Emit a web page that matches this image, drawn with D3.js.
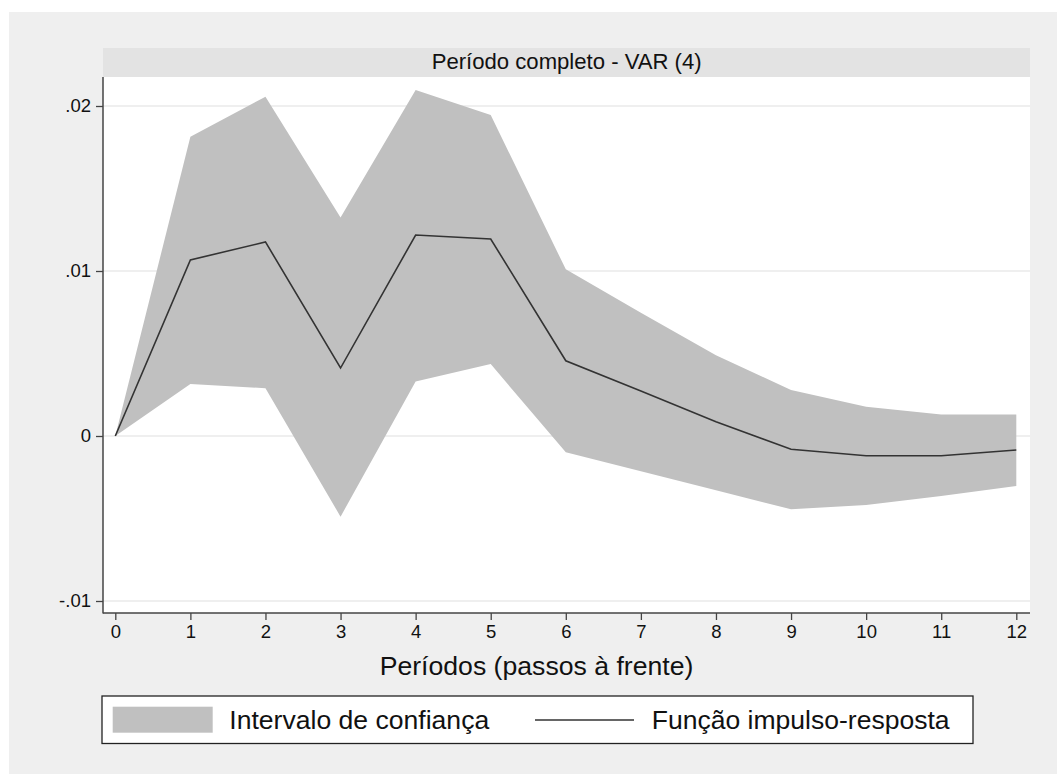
<!DOCTYPE html>
<html><head><meta charset="utf-8">
<script src="https://d3js.org/d3.v7.min.js"></script>
<style>body{margin:0;background:#fff;}svg{display:block;font-family:"Liberation Sans",Arial,sans-serif;}</style>
</head><body>
<script>
const steps = [0,1,2,3,4,5,6,7,8,9,10,11,12];
const irf   = [0, 0.01067, 0.01176, 0.00412, 0.01218, 0.01194, 0.00456, 0.00273, 0.00087, -0.0008, -0.0012, -0.0012, -0.00085];
const upper = [0, 0.01814, 0.02056, 0.01325, 0.02097, 0.01945, 0.0101, 0.00747, 0.0049, 0.00279, 0.00178, 0.00131, 0.00131];
const lower = [0, 0.00315, 0.0029, -0.00489, 0.0033, 0.00436, -0.00099, -0.00214, -0.00329, -0.00444, -0.00418, -0.00364, -0.00303];
const yTicks = [-0.01, 0, 0.01, 0.02];
const yTickLabels = ["-.01", "0", ".01", ".02"];
const titleText = "Período completo - VAR (4)";
const xTitle = "Períodos (passos à frente)";
const legendLabels = ["Intervalo de confiança", "Função impulso-resposta"];

const W = 1057, H = 774;
const svg = d3.select("body").append("svg").attr("width", W).attr("height", H);

// outer background
svg.append("rect").attr("x", 9).attr("y", 12).attr("width", W - 9).attr("height", H - 12).attr("fill", "#efefef");

const plot = {left: 103, right: 1030, top: 77, bottom: 613};
const x = d3.scaleLinear().domain([0, 12]).range([115.3, 1016.3]);
const y = d3.scaleLinear().domain([-0.01, 0.02]).range([601, 106]);

// plot area
svg.append("rect").attr("x", plot.left).attr("y", plot.top).attr("width", plot.right - plot.left).attr("height", plot.bottom - plot.top).attr("fill", "#fff");
// title strip
svg.append("rect").attr("x", plot.left).attr("y", 48).attr("width", plot.right - plot.left).attr("height", 29).attr("fill", "#e3e3e3");

function fit(sel, target) {
  const w = sel.node().getComputedTextLength();
  const fs = parseFloat(sel.attr("font-size"));
  sel.attr("font-size", fs * target / w);
}

const t = svg.append("text").attr("x", 566.7).attr("y", 69).attr("text-anchor", "middle").attr("font-size", 18).attr("fill", "#111").text(titleText);
fit(t, 270);

// gridlines
svg.append("g").selectAll("line").data(yTicks).join("line")
  .attr("x1", plot.left).attr("x2", plot.right)
  .attr("y1", d => y(d)).attr("y2", d => y(d))
  .attr("stroke", "#eaeaea").attr("stroke-width", 1.5);

const data = steps.map((s, i) => ({s, irf: irf[i], lo: lower[i], hi: upper[i]}));

svg.append("path").datum(data)
  .attr("d", d3.area().x(d => x(d.s)).y0(d => y(d.lo)).y1(d => y(d.hi)))
  .attr("fill", "#c0c0c0");

svg.append("path").datum(data)
  .attr("d", d3.line().x(d => x(d.s)).y(d => y(d.irf)))
  .attr("fill", "none").attr("stroke", "#333").attr("stroke-width", 1.6);

// y axis
const yAxis = d3.axisLeft(y).tickValues(yTicks).tickFormat((d, i) => yTickLabels[i]).tickSize(7).tickPadding(5);
const gy = svg.append("g").attr("transform", `translate(${plot.left},0)`).call(yAxis);
gy.select(".domain").remove();
gy.append("line").attr("x1", 0).attr("x2", 0).attr("y1", plot.top).attr("y2", plot.bottom + 0.5).attr("stroke", "#444").attr("stroke-width", 1.5);
gy.selectAll(".tick line").attr("stroke", "#444").attr("stroke-width", 1.3);
gy.selectAll(".tick text").attr("font-size", 18.5).attr("fill", "#111").attr("font-family", "Liberation Sans, Arial, sans-serif");

// x axis
const xAxis = d3.axisBottom(x).tickValues(steps).tickFormat(d3.format("d")).tickSize(7).tickPadding(5);
const gx = svg.append("g").attr("transform", `translate(0,${plot.bottom})`).call(xAxis);
gx.select(".domain").remove();
gx.append("line").attr("x1", plot.left).attr("x2", plot.right).attr("y1", 0).attr("y2", 0).attr("stroke", "#444").attr("stroke-width", 1.5);
gx.selectAll(".tick line").attr("stroke", "#444").attr("stroke-width", 1.3);
gx.selectAll(".tick text").attr("font-size", 18.5).attr("fill", "#111").attr("font-family", "Liberation Sans, Arial, sans-serif");

const xt = svg.append("text").attr("x", 536.5).attr("y", 675).attr("text-anchor", "middle").attr("font-size", 22).attr("fill", "#111").text(xTitle);
fit(xt, 314);

// legend
svg.append("rect").attr("x", 102).attr("y", 696).attr("width", 871).attr("height", 47.5).attr("fill", "#fff").attr("stroke", "#222").attr("stroke-width", 1.3);
svg.append("rect").attr("x", 112.7).attr("y", 706.7).attr("width", 100).attr("height", 26).attr("fill", "#c0c0c0");
const l1 = svg.append("text").attr("x", 229.3).attr("y", 729.3).attr("font-size", 22).attr("fill", "#111").text(legendLabels[0]);
fit(l1, 260);
svg.append("line").attr("x1", 535).attr("x2", 634).attr("y1", 720).attr("y2", 720).attr("stroke", "#333").attr("stroke-width", 1.6);
const l2 = svg.append("text").attr("x", 651.7).attr("y", 729.3).attr("font-size", 22).attr("fill", "#111").text(legendLabels[1]);
fit(l2, 298);
</script>
</body></html>
